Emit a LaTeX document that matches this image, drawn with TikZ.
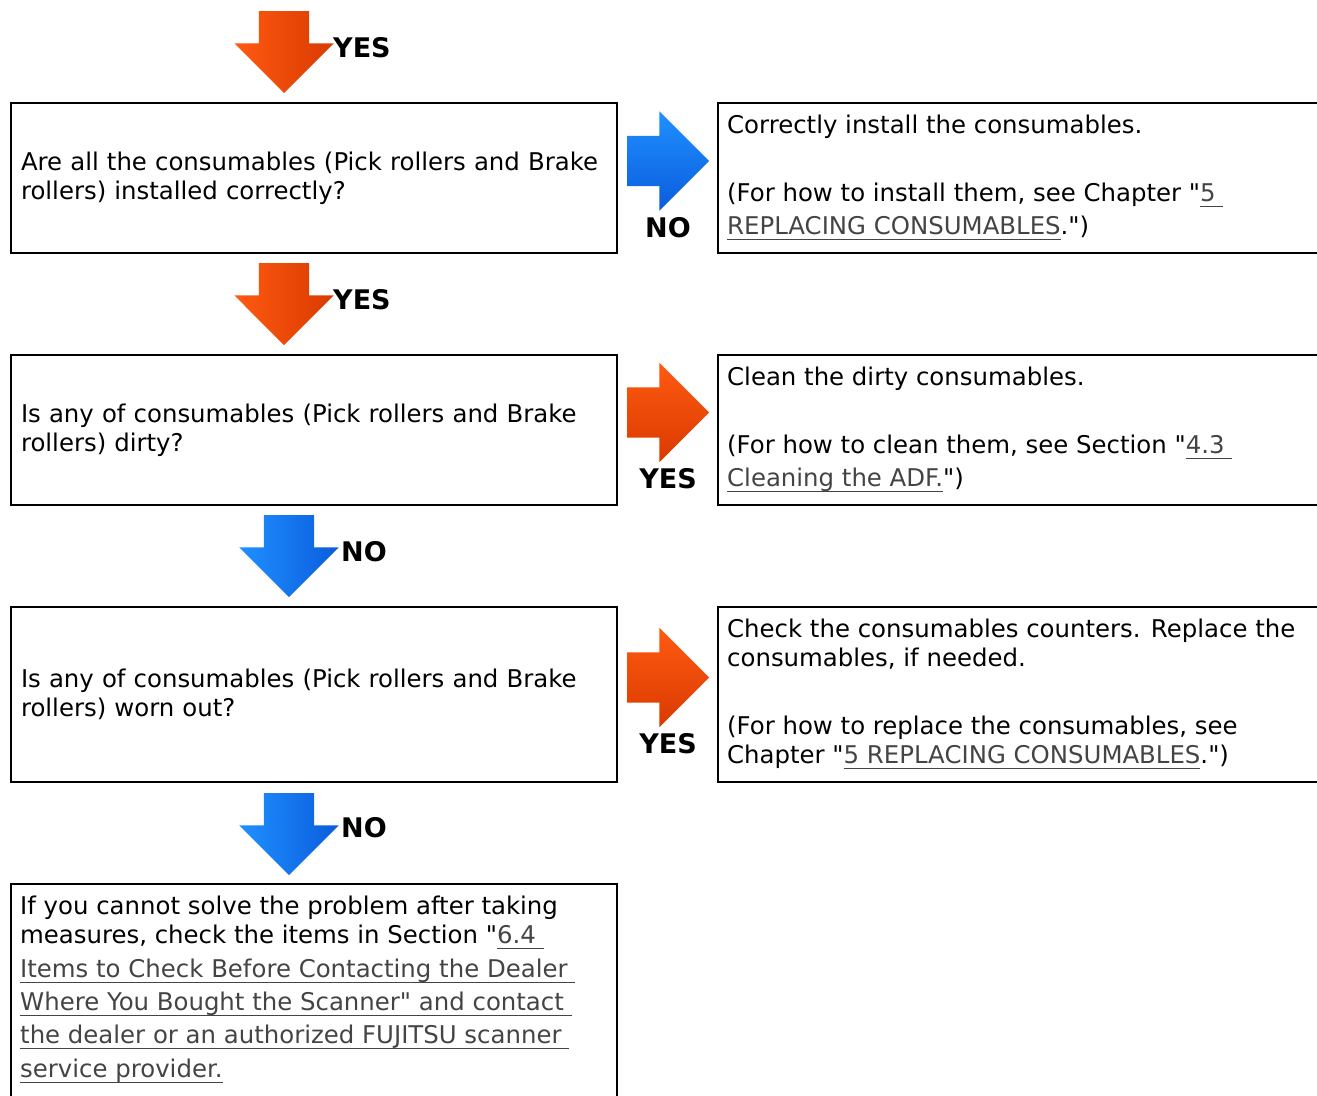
\documentclass[tikz,border=0pt]{standalone}
\usepackage{fontspec}
\setmainfont{DejaVu Sans}
\usepackage{xcolor}
\usepackage{tikz}
\usetikzlibrary{shapes.arrows, positioning}
\definecolor{orgfill}{HTML}{FF5A12}
\definecolor{orgdark}{HTML}{D93A00}
\definecolor{blufill}{HTML}{2090FF}
\definecolor{bludark}{HTML}{0A5CDC}
\definecolor{lnkgray}{HTML}{444444}
\newcommand{\boxfont}{\fontsize{24.4}{29}\selectfont}
\newcommand{\lblfont}{\fontsize{27}{30}\selectfont\bfseries}
\newcommand{\dq}{\textquotedbl}
\newcommand{\lnk}[1]{{\color{lnkgray}\setbox0=\hbox{#1}\rlap{\smash{\rule[-5pt]{\wd0}{1.2pt}}}\box0}}
\tikzset{
  frame/.style={rectangle, draw=black, line width=2pt},
  qbox/.style={frame, minimum width=606pt, minimum height=150pt, text width=586pt, align=left, inner sep=0pt, font=\boxfont},
  abox/.style={frame, minimum width=640pt, minimum height=150pt},
  txt/.style={align=left, inner sep=0pt, font=\boxfont, execute at begin node={\rule{0pt}{20pt}}},
  arr/.style={single arrow, single arrow tip angle=90, single arrow head extend=24.5pt, minimum height=82pt, inner xsep=0pt, inner ysep=25pt, outer sep=0pt},
  darr/.style={arr, rotate=-90},
  rarr/.style={arr},
  orgd/.style={left color=orgfill, middle color=orgfill, right color=orgdark},
  blud/.style={left color=blufill, middle color=blufill, right color=bludark},
  orgr/.style={top color=orgfill, middle color=orgfill, bottom color=orgdark},
  blur/.style={top color=blufill, middle color=blufill, bottom color=bludark},
  lbl/.style={inner sep=0pt, font=\lblfont},
}
\begin{document}
\begin{tikzpicture}[x=1pt, y=1pt, node distance=100pt]
  \useasboundingbox (0,0) rectangle (1317,-1095);
  \node[qbox] (q1) at (314,-178) {Are all the consumables (Pick rollers and Brake\\rollers) installed correctly?};
  \node[qbox, below=of q1] (q2) {Is any of consumables (Pick rollers and Brake\\rollers) dirty?};
  \node[qbox, below=of q2, minimum height=175pt] (q3) {Is any of consumables (Pick rollers and Brake\\rollers) worn out?};
  \node[frame, below=of q3, minimum width=606pt, minimum height=260pt] (q4) {};
  \node[txt, below right=13pt and 10pt of q4.north west] (q4txt) {If you cannot solve the problem after taking\\measures, check the items in Section \dq\lnk{6.4 }\\[5pt]\lnk{Items to Check Before Contacting the Dealer }\\[4pt]\lnk{Where You Bought the Scanner\dq{} and contact }\\[4pt]\lnk{the dealer or an authorized FUJITSU scanner }\\[5pt]\lnk{service provider.}};
  \node[abox, right=99pt of q1] (r1) {};
  \node[abox, right=99pt of q2] (r2) {};
  \node[abox, right=99pt of q3, minimum height=175pt] (r3) {};
  \node[txt, below right=13pt and 10pt of r1.north west] (r1txt) {Correctly install the consumables.\\[39pt](For how to install them, see Chapter \dq\lnk{5 }\\[4pt]\lnk{REPLACING CONSUMABLES}.\dq)};
  \node[txt, below right=13pt and 10pt of r2.north west] (r2txt) {Clean the dirty consumables.\\[39pt](For how to clean them, see Section \dq\lnk{4.3 }\\[4pt]\lnk{Cleaning the ADF.}\dq)};
  \node[txt, below right=13pt and 10pt of r3.north west] (r3txt) {Check the consumables counters. Replace the\\consumables, if needed.\\[39pt](For how to replace the consumables, see\\Chapter \dq\lnk{5 REPLACING CONSUMABLES}.\dq)};
  \node[xshift=-30pt, darr, orgd, above=9pt of q1.north, anchor=tip] (d1) {};
  \node[xshift=-30pt, darr, orgd, above=9pt of q2.north, anchor=tip] (d2) {};
  \node[xshift=-25pt, darr, blud, above=9pt of q3.north, anchor=tip] (d3) {};
  \node[xshift=-25pt, darr, blud, above=8pt of q4.north, anchor=tip] (d4) {};
  \node[lbl, above right=45pt and 49pt of d1.tip, anchor=west] (y1) {YES};
  \node[lbl, above right=45pt and 49pt of d2.tip, anchor=west] (y2) {YES};
  \node[lbl, above right=45pt and 52pt of d3.tip, anchor=west] (n3) {NO};
  \node[lbl, above right=47pt and 52pt of d4.tip, anchor=west] (n4) {NO};
  \node[rarr, blur, right=9pt of q1, yshift=17pt] (h1) {};
  \node[rarr, orgr, right=9pt of q2, yshift=17.5pt] (h2) {};
  \node[rarr, orgr, right=9pt of q3, yshift=17pt] (h3) {};
  \node[lbl, below left=56pt and 41pt of h1.tip, anchor=north] (hn1) {NO};
  \node[lbl, below left=56pt and 41pt of h2.tip, anchor=north] (hy2) {YES};
  \node[lbl, below left=56pt and 41pt of h3.tip, anchor=north] (hy3) {YES};
\end{tikzpicture}
\end{document}
